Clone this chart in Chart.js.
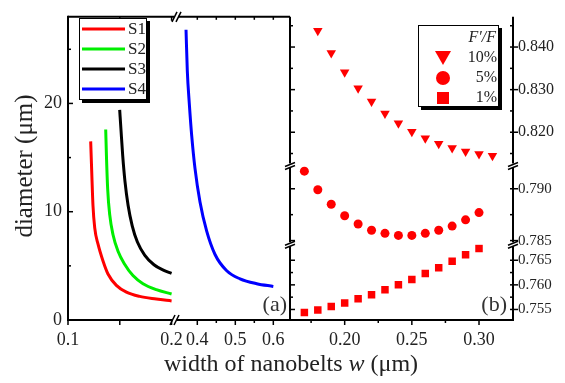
<!DOCTYPE html>
<html>
<head>
<meta charset="utf-8">
<script src="https://cdn.jsdelivr.net/npm/chart.js@4.4.1/dist/chart.umd.min.js"></script>
<style>
  body { margin: 0; background: #fff; }
</style>
</head>
<body>
<canvas id="nanobeltChart" width="565" height="383"></canvas>
<script>
// (a) diameter vs nanobelt width
const wS1 = [0.1219, 0.1229, 0.1241, 0.1258, 0.1290, 0.1338, 0.1386, 0.1467, 0.1564, 0.1692, 0.1853, 0.2000];
const dS1 = [16.5, 13.7, 10.6, 8.5, 7.0, 5.45, 4.25, 3.2, 2.57, 2.18, 1.94, 1.76];
const wS2 = [0.1364, 0.1371, 0.1383, 0.1403, 0.1434, 0.1483, 0.1547, 0.1627, 0.1724, 0.1853, 0.2000];
const dS2 = [17.6, 15.2, 12.1, 9.7, 7.9, 6.35, 5.15, 4.1, 3.35, 2.8, 2.4];
const wS3 = [0.1499, 0.1512, 0.1528, 0.1550, 0.1580, 0.1620, 0.1670, 0.1740, 0.1830, 0.1920, 0.2000];
const dS3 = [19.4, 17.5, 15.2, 12.8, 10.6, 8.7, 7.2, 6.0, 5.1, 4.6, 4.3];
const wS4 = [0.3703, 0.3737, 0.3789, 0.3853, 0.3939, 0.4071, 0.4247, 0.4466, 0.4774, 0.5124, 0.5563, 0.6000];
const dS4 = [26.8, 23.0, 20.0, 17.0, 14.0, 10.9, 8.2, 6.05, 4.55, 3.8, 3.35, 3.1];

// (b) F'/F vs nanobelt width
const w10 = [0.18, 0.19, 0.20, 0.21, 0.22, 0.23, 0.24, 0.25, 0.26, 0.27, 0.28, 0.29, 0.30, 0.31];
const ratio10 = [0.8438, 0.8386, 0.8341, 0.8303, 0.8272, 0.8244, 0.8221, 0.8201, 0.8186, 0.8173, 0.8163, 0.8155, 0.8149, 0.8145];
const w5 = [0.17, 0.18, 0.19, 0.20, 0.21, 0.22, 0.23, 0.24, 0.25, 0.26, 0.27, 0.28, 0.29, 0.30];
const ratio5 = [0.7917, 0.7899, 0.7885, 0.7874, 0.7866, 0.7860, 0.7857, 0.7855, 0.7855, 0.7857, 0.7860, 0.7864, 0.7870, 0.7877];
const w1 = [0.17, 0.18, 0.19, 0.20, 0.21, 0.22, 0.23, 0.24, 0.25, 0.26, 0.27, 0.28, 0.29, 0.30];
const ratio1 = [0.7544, 0.7549, 0.7556, 0.7563, 0.7572, 0.7580, 0.7590, 0.7600, 0.7611, 0.7623, 0.7635, 0.7648, 0.7661, 0.7674];

// tick values
const ticksDiam = [0, 10, 20];
const minorDiam = [5, 15, 25];
const ticksA1 = [0.1, 0.15, 0.2];
const ticksA2 = [0.4, 0.5, 0.6];
const minorA2 = [0.45, 0.55];
const ticksB = [0.20, 0.25, 0.30];
const minorB = [0.175, 0.225, 0.275];
const ticks10 = [0.820, 0.830, 0.840];
const minor10 = [0.815, 0.825, 0.835, 0.845];
const ticks5 = [0.785, 0.790];
const minor5 = [0.7875];
const ticks1 = [0.755, 0.760, 0.765];
const minor1 = [0.7575, 0.7625];

const serif = '"Liberation Serif", "Times New Roman", serif';
const pts = (xs, ys) => xs.map((x, i) => ({ x: x, y: ys[i] }));
const setTicks = vals => scale => { scale.ticks = vals.map(v => ({ value: v })); };

const curve = (label, xs, ys, color, xAxis) => ({
  label: label,
  data: pts(xs, ys),
  xAxisID: xAxis,
  yAxisID: 'ya',
  borderColor: color,
  borderWidth: 3,
  pointRadius: 0,
  cubicInterpolationMode: 'monotone',
  fill: false
});

const marks = (label, xs, ys, yAxis, style, radius, rotation) => ({
  label: label,
  data: pts(xs, ys),
  xAxisID: 'xb',
  yAxisID: yAxis,
  showLine: false,
  pointStyle: style,
  pointRadius: radius,
  pointRotation: rotation,
  pointBackgroundColor: '#ff0000',
  pointBorderColor: '#ff0000',
  pointBorderWidth: 0
});

const xScale = (min, max, weight, vals, labels, fmt) => ({
  type: 'linear',
  position: 'bottom',
  stack: 'x',
  stackWeight: weight,
  min: min,
  max: max,
  grid: { display: false, drawTicks: false },
  border: { display: false },
  afterBuildTicks: setTicks(vals),
  afterFit: s => { s.height = 63; },
  ticks: {
    autoSkip: false,
    maxRotation: 0,
    padding: 9,
    color: '#222',
    font: { family: serif, size: 18 },
    callback: v => labels.includes(v) ? v.toFixed(fmt) : ''
  }
});

const yRight = (min, max, weight, vals, size) => ({
  type: 'linear',
  position: 'right',
  stack: 'y',
  stackWeight: weight,
  min: min,
  max: max,
  grid: { display: false, drawTicks: false },
  border: { display: false },
  afterBuildTicks: setTicks(vals),
  afterFit: s => { s.width = 52; },
  ticks: {
    autoSkip: false,
    padding: 5,
    color: '#222',
    font: { family: serif, size: size },
    callback: v => v.toFixed(3)
  }
});

function seg(ctx, x1, y1, x2, y2) {
  ctx.beginPath();
  ctx.moveTo(x1, y1);
  ctx.lineTo(x2, y2);
  ctx.stroke();
}

const frame = {
  id: 'frame',
  afterDraw(chart) {
    const ctx = chart.ctx;
    const ca = chart.chartArea;
    const s = chart.scales;
    const L = ca.left, T = ca.top, B = ca.bottom, R = ca.right;
    const M = s.xb.left, bx = s.xa2.left;
    const by1 = s.yb1.bottom, by2 = s.yb2.bottom;

    ctx.save();
    ctx.strokeStyle = '#000';
    ctx.lineWidth = 2;
    // box lines with gaps at the breaks
    seg(ctx, L, T - 1, L, B + 1);
    seg(ctx, L, B, bx - 2, B);
    seg(ctx, bx + 2, B, R + 1, B);
    seg(ctx, L, T, bx - 1, T);
    seg(ctx, bx + 3, T, M, T);
    [M, R].forEach(x => {
      seg(ctx, x, T, x, by1 - 2);
      seg(ctx, x, by1 + 2, x, by2 - 2);
      seg(ctx, x, by2 + 2, x, B);
    });

    // break marks
    ctx.lineWidth = 1.5;
    [[bx, B], [bx + 2, T]].forEach(([x, y]) => {
      seg(ctx, x - 5, y + 5, x, y - 5);
      seg(ctx, x - 1, y + 5, x + 4, y - 5);
    });
    [M, R].forEach(x => {
      [by1, by2].forEach(y => {
        seg(ctx, x - 5, y + 1, x + 5, y - 3);
        seg(ctx, x - 5, y + 4, x + 5, y);
      });
    });

    // ticks
    ctx.lineWidth = 1.5;
    const tx = (scale, vals, y, len) => vals.forEach(v => {
      const p = scale.getPixelForValue(v);
      seg(ctx, p, y, p, y + len);
    });
    const ty = (scale, vals, x, len) => vals.forEach(v => {
      const p = scale.getPixelForValue(v);
      seg(ctx, x, p, x + len, p);
    });
    ty(s.ya, ticksDiam, L, 5);
    ty(s.ya, minorDiam, L, 3);
    tx(s.xa1, ticksA1, B, 5);
    tx(s.xa1, ticksA1.slice(1), T, 4);
    tx(s.xa2, ticksA2, B, 5);
    tx(s.xa2, minorA2, B, 3);
    tx(s.xa2, ticksA2.concat(minorA2), T, 3);
    tx(s.xb, ticksB, B, 5);
    tx(s.xb, minorB, B, 3);
    [[s.yb1, ticks10, minor10], [s.yb2, ticks5, minor5], [s.yb3, ticks1, minor1]].forEach(([sc, maj, min]) => {
      ty(sc, maj, M, 5);
      ty(sc, min, M, 3);
      ty(sc, maj, R - 3, 8);
      ty(sc, min, R - 3, 3);
    });

    // legend (a)
    const box = (x, y, w, h) => {
      ctx.fillStyle = '#000';
      ctx.fillRect(x + 3, y + 3, w, h);
      ctx.fillStyle = '#fff';
      ctx.fillRect(x, y, w, h);
      ctx.lineWidth = 1;
      ctx.strokeRect(x + 0.5, y + 0.5, w - 1, h - 1);
    };
    box(79, 18, 68, 82);
    const legA = [['S1', '#ff0000'], ['S2', '#00ee00'], ['S3', '#000000'], ['S4', '#0000ff']];
    ctx.font = '17px ' + serif;
    ctx.textBaseline = 'middle';
    ctx.textAlign = 'left';
    legA.forEach(([name, color], i) => {
      const y = 29 + i * 20;
      ctx.strokeStyle = color;
      ctx.lineWidth = 3;
      seg(ctx, 82, y, 125, y);
      ctx.fillStyle = '#222';
      ctx.fillText(name, 128, y + 1);
    });

    // legend (b)
    ctx.strokeStyle = '#000';
    box(418, 25, 81, 82);
    ctx.fillStyle = '#222';
    ctx.textAlign = 'right';
    ctx.font = 'italic 16px ' + serif;
    ctx.fillText('F\u2032/F', 496, 38);
    ctx.font = '16px ' + serif;
    ctx.fillText('10%', 497, 58);
    ctx.fillText('5%', 497, 78);
    ctx.fillText('1%', 497, 98);
    ctx.fillStyle = '#ff0000';
    ctx.beginPath();
    ctx.moveTo(435, 51);
    ctx.lineTo(451, 51);
    ctx.lineTo(443, 65);
    ctx.closePath();
    ctx.fill();
    ctx.beginPath();
    ctx.arc(443, 78, 7, 0, Math.PI * 2);
    ctx.fill();
    ctx.fillRect(437, 92, 12, 12);

    // panel tags
    ctx.fillStyle = '#333';
    ctx.font = '22px ' + serif;
    ctx.textAlign = 'right';
    ctx.fillText('(a)', 287, 305);
    ctx.fillText('(b)', 507, 305);

    // axis titles
    ctx.fillStyle = '#222';
    ctx.font = '24px ' + serif;
    const p1 = 'width of nanobelts ', p3 = ' (\u03bcm)';
    const w1w = ctx.measureText(p1).width;
    const w3w = ctx.measureText(p3).width;
    ctx.font = 'italic 24px ' + serif;
    const w2w = ctx.measureText('w').width;
    let x0 = 291 - (w1w + w2w + w3w) / 2;
    ctx.textAlign = 'left';
    ctx.textBaseline = 'alphabetic';
    ctx.font = '24px ' + serif;
    ctx.fillText(p1, x0, 371);
    ctx.font = 'italic 24px ' + serif;
    ctx.fillText('w', x0 + w1w, 371);
    ctx.font = '24px ' + serif;
    ctx.fillText(p3, x0 + w1w + w2w, 371);

    ctx.translate(25, 166);
    ctx.rotate(-Math.PI / 2);
    ctx.textAlign = 'center';
    ctx.textBaseline = 'middle';
    ctx.font = '25px ' + serif;
    ctx.fillText('diameter (\u03bcm)', 0, 0);
    ctx.restore();
  }
};

new Chart(document.getElementById('nanobeltChart'), {
  type: 'line',
  data: {
    datasets: [
      curve('S1', wS1, dS1, '#ff0000', 'xa1'),
      curve('S2', wS2, dS2, '#00ee00', 'xa1'),
      curve('S3', wS3, dS3, '#000000', 'xa1'),
      curve('S4', wS4, dS4, '#0000ff', 'xa2'),
      marks('10%', w10, ratio10, 'yb1', 'triangle', 5.5, 180),
      marks('5%', w5, ratio5, 'yb2', 'circle', 4.5, 0),
      marks('1%', w1, ratio1, 'yb3', 'rect', 5.3, 0)
    ]
  },
  options: {
    responsive: false,
    devicePixelRatio: 1,
    animation: false,
    layout: { padding: { top: 12, left: 0, right: 0, bottom: 0 } },
    plugins: { legend: { display: false }, tooltip: { enabled: false } },
    scales: {
      xa1: xScale(0.1, 0.2033, 107, ticksA1, [0.1, 0.2], 1),
      xa2: xScale(0.3413, 0.6439, 115, ticksA2, ticksA2, 1),
      xb: xScale(0.1593, 0.3253, 223, ticksB, ticksB, 2),
      ya: {
        type: 'linear',
        position: 'left',
        min: 0,
        max: 28,
        grid: { display: false, drawTicks: false },
        border: { display: false },
        afterBuildTicks: setTicks(ticksDiam),
        afterFit: s => { s.width = 68; },
        ticks: { padding: 6, color: '#222', font: { family: serif, size: 18 } }
      },
      yb1: yRight(0.8122, 0.8471, 151, ticks10, 16),
      yb2: yRight(0.78465, 0.79225, 80, ticks5, 15),
      yb3: yRight(0.75286, 0.76826, 77, ticks1, 15)
    }
  },
  plugins: [frame]
});
</script>
</body>
</html>
